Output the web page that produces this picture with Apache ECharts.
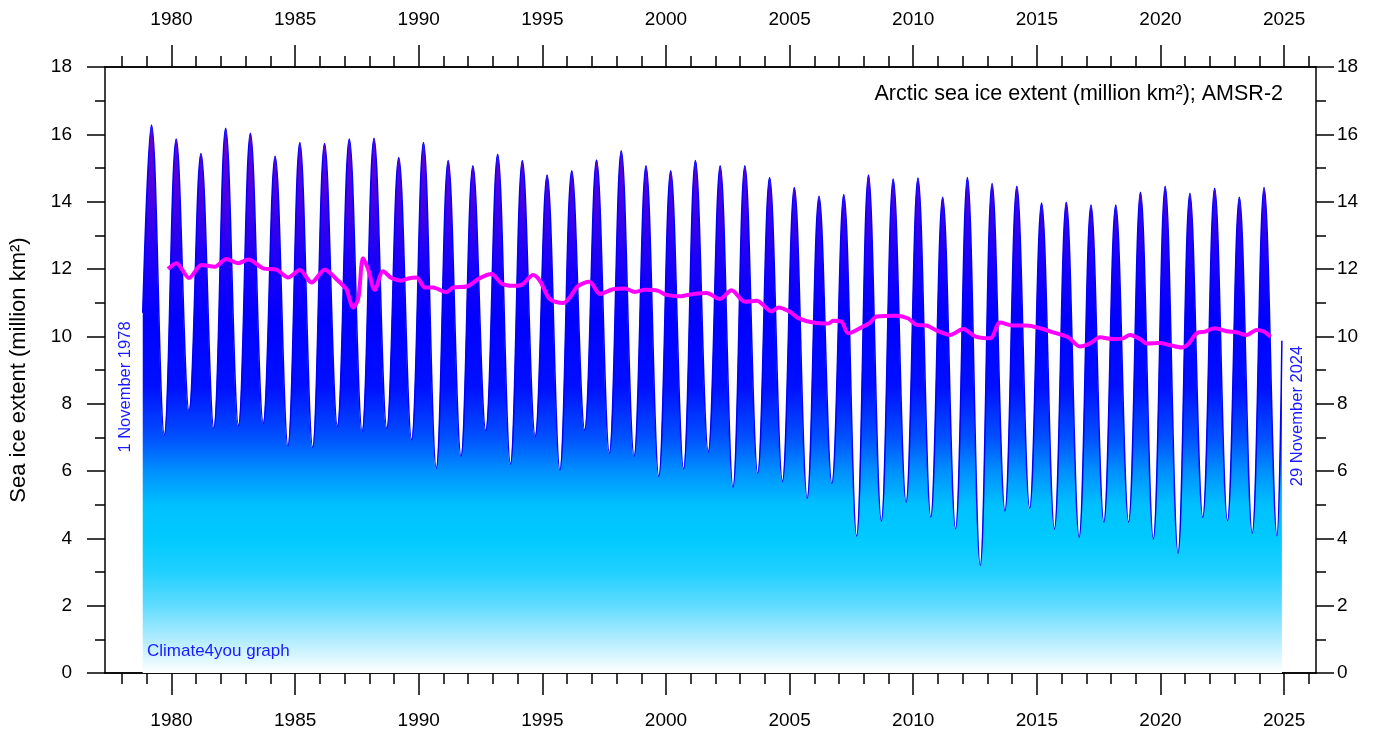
<!DOCTYPE html>
<html>
<head>
<meta charset="utf-8">
<script src="https://cdn.jsdelivr.net/npm/echarts@6/dist/echarts.min.js"></script>
<style>
html,body{margin:0;padding:0;background:#fff;}
#chart{width:1390px;height:734px;}
</style>
</head>
<body>
<div id="chart"></div>
<script>
// ---- data ----
const seasonYears = [1979,1980,1981,1982,1983,1984,1985,1986,1987,1988,1989,1990,1991,1992,1993,1994,1995,1996,1997,1998,1999,2000,2001,2002,2003,2004,2005,2006,2007,2008,2009,2010,2011,2012,2013,2014,2015,2016,2017,2018,2019,2020,2021,2022,2023,2024];
const winterMax = [16.28,15.86,15.43,16.18,16.03,15.35,15.76,15.73,15.86,15.88,15.31,15.76,15.22,15.07,15.41,15.22,14.79,14.92,15.24,15.51,15.07,14.92,15.22,15.07,15.07,14.72,14.42,14.16,14.21,14.79,14.67,14.70,14.13,14.72,14.54,14.46,13.96,13.98,13.90,13.90,14.28,14.46,14.25,14.40,14.13,14.42];
const summerMin = [7.07,7.79,7.27,7.35,7.42,6.75,6.70,7.33,7.18,7.27,6.93,6.08,6.44,7.20,6.21,7.03,6.03,7.22,6.53,6.44,5.84,6.06,6.57,5.52,5.93,5.69,5.19,5.63,4.06,4.51,5.07,4.64,4.28,3.19,4.82,4.89,4.28,4.03,4.48,4.48,3.98,3.56,4.62,4.52,4.15,4.08];
const maxDayOfYear = 0.19;   // time of winter maximum (fraction of year)
const minDayOfYear = 0.71;   // time of summer minimum (fraction of year)
const firstPoint = [1978.836, 10.7];   // 1 November 1978
const lastPoint = [2024.91, 9.87];     // 29 November 2024

const meanYears = [1979.86,1980.20,1980.71,1981.21,1981.75,1982.22,1982.69,1983.10,1983.71,1984.25,1984.72,1985.19,1985.66,1986.20,1986.74,1987.01,1987.08,1987.35,1987.55,1987.75,1987.95,1988.22,1988.56,1988.90,1989.30,1989.57,1989.91,1990.25,1990.58,1991.12,1991.39,1991.93,1992.47,1992.94,1993.35,1993.82,1994.16,1994.63,1994.90,1995.30,1995.84,1996.11,1996.45,1996.90,1997.33,1997.86,1998.34,1998.74,1999.15,1999.68,2000.02,2000.55,2001.10,2001.64,2002.18,2002.65,2003.19,2003.67,2004.27,2004.54,2005.01,2005.35,2005.95,2006.56,2006.76,2007.10,2007.37,2007.91,2008.25,2008.52,2009.33,2009.80,2010.14,2010.54,2010.95,2011.49,2012.02,2012.50,2013.11,2013.51,2014.05,2014.59,2015.13,2015.66,2016.27,2016.74,2017.15,2017.55,2018.09,2018.49,2018.76,2019.17,2019.44,2019.98,2020.38,2020.86,2021.12,2021.46,2021.80,2022.20,2022.68,2023.08,2023.49,2023.89,2024.16,2024.45];
const meanValues = [12.00,12.17,11.73,12.12,12.07,12.30,12.17,12.28,12.02,11.98,11.75,11.97,11.60,11.98,11.65,11.45,11.40,10.86,11.11,12.32,12.00,11.38,11.93,11.73,11.65,11.72,11.75,11.45,11.45,11.31,11.45,11.48,11.73,11.85,11.57,11.50,11.53,11.82,11.65,11.11,10.99,11.16,11.50,11.62,11.26,11.40,11.42,11.32,11.38,11.35,11.23,11.19,11.26,11.29,11.11,11.37,11.03,11.06,10.74,10.86,10.73,10.54,10.41,10.38,10.46,10.43,10.09,10.27,10.41,10.59,10.61,10.53,10.34,10.32,10.17,10.04,10.22,10.00,9.94,10.41,10.32,10.32,10.24,10.12,9.97,9.70,9.79,9.97,9.92,9.94,10.04,9.92,9.79,9.80,9.74,9.67,9.77,10.09,10.14,10.24,10.15,10.12,10.04,10.19,10.15,9.99];

const majorYears = [1980,1985,1990,1995,2000,2005,2010,2015,2020,2025];
const minorYears = [];
for (let y = 1978; y <= 2026; y++) minorYears.push(y);
const xMin = 1977.31, xMax = 2026.29;

// ---- build series data ----
const extentData = [firstPoint];
seasonYears.forEach((y, i) => {
  extentData.push([y + maxDayOfYear, winterMax[i]]);
  extentData.push([y + minDayOfYear, summerMin[i]]);
});
extentData.push(lastPoint);
const meanData = meanYears.map((y, i) => [y, meanValues[i]]);

const FONT = 'Arial, "Liberation Sans", sans-serif';
const black = '#000';

function xAx(pos, major) {
  return {
    type: 'value', position: pos, min: xMin, max: xMax,
    axisLine: { show: true, onZero: false, lineStyle: { color: black, width: 1.5 } },
    axisTick: { show: true, inside: false, length: major ? 22 : 11,
      customValues: major ? majorYears : minorYears,
      lineStyle: { color: black, width: 1.5 } },
    axisLabel: { show: major, customValues: majorYears, color: black, fontSize: 19,
      fontFamily: FONT, margin: 38, formatter: v => String(Math.round(v)) },
    splitLine: { show: false }
  };
}
function yAx(pos) {
  const left = pos === 'left';
  return {
    type: 'value', position: pos, min: 0, max: 18, interval: 2,
    axisLine: { show: true, onZero: false, lineStyle: { color: black, width: 1.5 } },
    axisTick: { show: true, inside: false, length: 18, lineStyle: { color: black, width: 1.5 } },
    minorTick: { show: true, splitNumber: 2, length: 10, lineStyle: { color: black, width: 1.5 } },
    axisLabel: { color: black, fontSize: 19, fontFamily: FONT, margin: left ? 33 : 21 },
    splitLine: { show: false },
    name: left ? 'Sea ice extent (million km²)' : '',
    nameLocation: 'middle', nameGap: 75, nameRotate: 90,
    nameTextStyle: { color: black, fontSize: 22, fontFamily: FONT }
  };
}

const chart = echarts.init(document.getElementById('chart'), null, { renderer: 'canvas' });
const fill = new echarts.graphic.LinearGradient(0, 67, 0, 673, [
  { offset: 0.00, color: '#8000c0' },
  { offset: 0.083, color: '#7400cc' },
  { offset: 0.194, color: '#5000e0' },
  { offset: 0.306, color: '#2000f4' },
  { offset: 0.417, color: '#0000ff' },
  { offset: 0.528, color: '#0010ff' },
  { offset: 0.611, color: '#0050ff' },
  { offset: 0.667, color: '#0090ff' },
  { offset: 0.722, color: '#00c0ff' },
  { offset: 0.778, color: '#00caff' },
  { offset: 0.833, color: '#20d0ff' },
  { offset: 0.889, color: '#60dcff' },
  { offset: 0.944, color: '#b0ecff' },
  { offset: 1.00, color: '#ffffff' }
], true);

chart.setOption({
  animation: false,
  backgroundColor: '#fff',
  grid: { left: 105, right: 74, top: 67, bottom: 61, containLabel: false, outerBoundsMode: 'none' },
  xAxis: [xAx('bottom', true), xAx('bottom', false), xAx('top', true), xAx('top', false)],
  yAxis: [yAx('left'), yAx('right')],
  series: [
    {
      type: 'line', xAxisIndex: 0, yAxisIndex: 0, data: extentData,
      smooth: 0.4, showSymbol: false, symbol: 'none', z: 2,
      lineStyle: { color: '#0000ff', width: 1.5 },
      areaStyle: { color: fill, opacity: 1 }
    },
    {
      type: 'line', xAxisIndex: 0, yAxisIndex: 0, data: meanData,
      smooth: 0.3, showSymbol: false, symbol: 'none', z: 3,
      lineStyle: { color: '#ff00ff', width: 4 }
    }
  ],
  graphic: [
    { type: 'text', right: 107, top: 83, z: 10,
      style: { text: 'Arctic sea ice extent (million km²); AMSR-2', fill: black, fontSize: 21.5, fontFamily: FONT } },
    { type: 'text', x: 125, y: 387, rotation: Math.PI / 2, z: 10,
      style: { text: '1 November 1978', fill: '#1a1aff', fontSize: 16.5, fontFamily: FONT, align: 'center', verticalAlign: 'middle' } },
    { type: 'text', x: 1297, y: 416, rotation: Math.PI / 2, z: 10,
      style: { text: '29 November 2024', fill: '#1a1aff', fontSize: 16.5, fontFamily: FONT, align: 'center', verticalAlign: 'middle' } },
    { type: 'text', x: 147, y: 651, z: 10,
      style: { text: 'Climate4you graph', fill: '#1a1aff', fontSize: 17, fontFamily: FONT, align: 'left', verticalAlign: 'middle' } }
  ]
});
</script>
</body>
</html>
